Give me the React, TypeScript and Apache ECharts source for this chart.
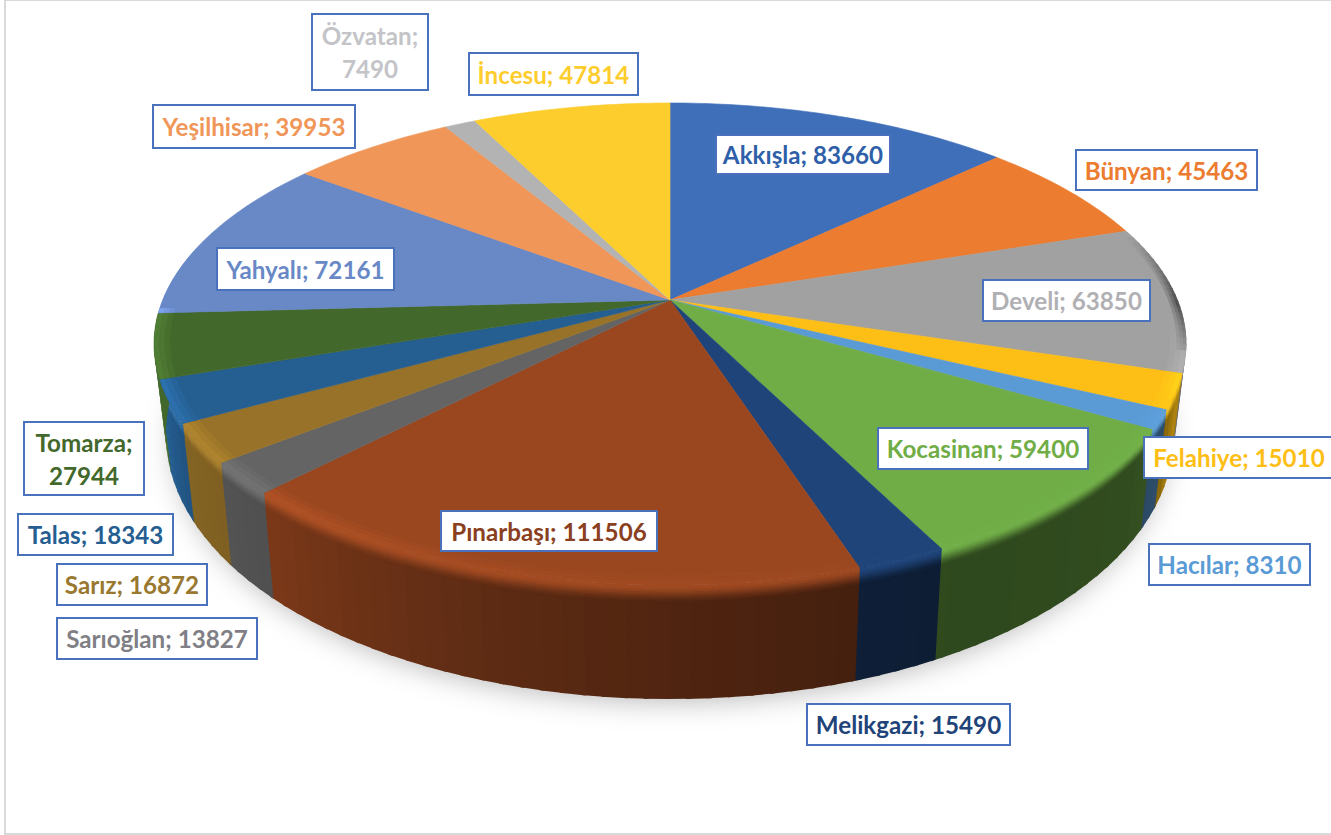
import React, { useEffect, useRef } from "react";
import * as echarts from "echarts";

const names = ["Akkışla","Bünyan","Develi","Felahiye","Hacılar","Kocasinan","Melikgazi","Pınarbaşı","Sarıoğlan","Sarız","Talas","Tomarza","Yahyalı","Yeşilhisar","Özvatan","İncesu"];
const values = [83660,45463,63850,15010,8310,59400,15490,111506,13827,16872,18343,27944,72161,39953,7490,47814];
const colors = ["#3f6fb8","#ec7c30","#a1a1a1","#fdbe16","#5b9bd5","#70ad47","#1f4479","#9a4720","#646464","#977228","#255e91","#43682b","#6888c6","#ef9658","#b3b3b3","#fdcd2e"];
const labelColors = ["#2f5fa8","#ec7c30","#b0b0b4","#fdbe16","#5b9bd5","#70ad47","#1f4479","#8a4020","#7f7f85","#997830","#255e91","#43682b","#6888c6","#ef9658","#c4c4c8","#fdcd2e"];
// label boxes: x0, y0, x1, y1
const labelBoxes = [[716,135,890,174],[1076,150,1257,190],[983,280,1150,321],[1144,437,1345,478],[1149,544,1310,585],[878,428,1088,469],[807,704,1010,745],[441,511,657,551],[57,618,257,659],[57,564,207,605],[18,514,173,555],[24,422,144,495],[217,248,394,290],[153,105,355,148],[312,14,428,90],[469,53,638,95]];
const twoLine = [false,false,false,false,false,false,false,false,false,false,false,true,false,false,true,false];
const labelFont = 'bold 24.2px Lato, "Noto Sans", sans-serif';

// perspective disc
const cx = 670, cy = 300, A = 507.3, B = 233, K = 0.1826, SHRINK = 0.023;
const total = values.reduce((s, v) => s + v, 0);
const rad = (d: number) => (d * Math.PI) / 180;
function P(deg: number, r: number, t: number): number[] {
  const X = r * Math.sin(rad(deg)), Y = -r * Math.cos(rad(deg));
  const w = 1 / (1 - K * Y);
  const s = 1 - SHRINK * t;
  const depth = 85 + 29 * Y; // the near rim looks deeper than the far one
  return [cx + A * X * w * s, cy + B * Y * w + depth * t];
}
function rgb(h: string) { return [1, 3, 5].map((i) => parseInt(h.slice(i, i + 2), 16)); }
function toHex(c: number[]) { return "#" + c.map((v) => Math.max(0, Math.min(255, Math.round(v))).toString(16).padStart(2, "0")).join(""); }
function mul(h: string, f: number) { return toHex(rgb(h).map((v) => v * f)); }
function mix(a: string, b: string, f: number) { const x = rgb(a), y = rgb(b); return toHex(x.map((v, i) => v + (y[i] - v) * f)); }
const shadeStops = [[70,0.4],[95,0.45],[104,0.65],[110,0.7],[116,0.5],[125,0.44],[150,0.42],[165,0.46],[180,0.52],[200,0.62],[224,0.8],[240,0.87],[250,1.0],[290,1.0]];
function shade(d: number) {
  for (let i = 1; i < shadeStops.length; i++) {
    const [a, va] = shadeStops[i - 1], [b, vb] = shadeStops[i];
    if (d <= b) return va + ((vb - va) * (d - a)) / (b - a);
  }
  return 1;
}
function range(i: number) {
  const before = values.slice(0, i).reduce((s, v) => s + v, 0);
  return [(before / total) * 360, ((before + values[i]) / total) * 360];
}
function steps(a: number, b: number, st: number) {
  const out = [a];
  let x = a + st;
  while (x < b - 0.01) { out.push(x); x += st; }
  out.push(b);
  return out;
}
const bandStops = [0.15, 0.13, 0.11, 0.09, 0.07, 0.05, 0.03, 0.015, 0];
const smooth = (u: number) => u * u * (3 - 2 * u);

function poly(points: number[][], color: string) {
  return { type: "polygon", shape: { points }, style: { fill: color } };
}

function renderShadow(params: any) {
  if (params.dataIndex !== 0) return { type: "group", children: [] };
  const pts = steps(0, 360, 3).map((d) => P(d, 0.985, 1));
  return { type: "polygon", shape: { points: pts }, style: { fill: "#ffffff", shadowBlur: 28, shadowOffsetX: 0, shadowOffsetY: 8, shadowColor: "rgba(0,0,0,0.28)" } };
}

function renderSide(params: any) {
  const i = params.dataIndex;
  const [a0, a1] = range(i);
  const lo = Math.max(a0, 75), hi = Math.min(a1, 285);
  const children: any[] = [];
  if (hi <= lo) return { type: "group", children };
  const ts = steps(lo, hi, 2);
  const over = 0.5;
  // bodies first, each reaching a little under its neighbour so no seam shows
  for (let s = 0; s < ts.length - 1; s++) {
    const d0 = ts[s], d1 = ts[s + 1] + over;
    const side = mul(colors[i], shade((ts[s] + ts[s + 1]) / 2));
    children.push(poly([P(d0, 1, 0.1), P(d1, 1, 0.1), P(d1, 1, 1), P(d0, 1, 1)], side));
  }
  for (let s = 0; s < ts.length - 1; s++) {
    const d0 = ts[s], d1 = ts[s + 1] + over;
    const f = shade((ts[s] + ts[s + 1]) / 2);
    const side = mul(colors[i], f);
    const hl = mul(colors[i], 1 + 0.2 * Math.max(0, f - 0.4) / 0.6);
    for (let b = 0; b < bandStops.length - 1; b++) {
      const t0 = bandStops[b + 1], t1 = bandStops[b] + 0.008;
      const c = mix(hl, side, smooth((bandStops[b + 1] + bandStops[b]) / 2 / 0.15));
      children.push(poly([P(d0, 1, t0), P(d1, 1, t0), P(d1, 1, t1), P(d0, 1, t1)], c));
    }
  }
  return { type: "group", children };
}

function renderTop(params: any) {
  const i = params.dataIndex;
  const [a0, a1] = range(i);
  const children: any[] = [];
  const arc = steps(a0, a1, 1).map((d) => P(d, 1, 0));
  children.push({ type: "polygon", shape: { points: [[cx, cy], ...arc] }, style: { fill: colors[i], stroke: colors[i], lineWidth: 0.6 } });
  const rimBands = [0.97, 0.98, 0.99, 1];
  const lo = Math.max(a0, 95), hi = Math.min(a1, 268);
  if (hi > lo) {
    const ts = steps(lo, hi, 2);
    for (let s = 0; s < ts.length - 1; s++) {
      const d0 = ts[s], d1 = Math.min(ts[s + 1] + 0.5, hi);
      const f = shade((ts[s] + ts[s + 1]) / 2);
      const hl = mul(colors[i], 1 + 0.2 * Math.max(0, f - 0.4) / 0.6);
      for (let r = 0; r < rimBands.length - 1; r++) {
        const c = mix(colors[i], hl, (r + 1) / 3);
        children.push(poly([P(d0, rimBands[r], 0), P(d1, rimBands[r], 0), P(d1, rimBands[r + 1], 0), P(d0, rimBands[r + 1], 0)], c));
      }
    }
  }
  // the back-right rim falls into shade, strongest near the widest point
  const bLo = Math.max(a0, 72), bHi = Math.min(a1, 102);
  if (bHi > bLo) {
    const ts = steps(bLo, bHi, 1.5);
    const rs = [0.982, 0.988, 0.994, 1.001];
    for (let s = 0; s < ts.length - 1; s++) {
      const d0 = ts[s], d1 = Math.min(ts[s + 1] + 0.4, bHi);
      const g = ts[s] < 90 ? (ts[s] - 72) / 18 : (102 - ts[s]) / 12;
      for (let r = 0; r < rs.length - 1; r++) {
        const c = mix(colors[i], mul(colors[i], 0.5), ((r + 1) / 3) * g);
        children.push(poly([P(d0, rs[r], 0), P(d1, rs[r], 0), P(d1, rs[r + 1], 0), P(d0, rs[r + 1], 0)], c));
      }
    }
  }
  return { type: "group", children };
}

function renderLabel(params: any, api: any) {
  const i = params.dataIndex;
  const [x0, y0, x1, y1] = labelBoxes[i];
  const v = api.value(0);
  const text = twoLine[i] ? `${names[i]};\n${v}` : `${names[i]}; ${v}`;
  return {
    type: "group",
    children: [
      { type: "rect", shape: { x: x0, y: y0, width: x1 - x0, height: y1 - y0 }, style: { fill: "#ffffff", stroke: "#4a72bc", lineWidth: 2 } },
      { type: "text", style: { text, x: Math.min((x0 + x1) / 2, i === 3 ? 1239 : 9999), y: (y0 + y1) / 2, align: "center", verticalAlign: "middle", font: labelFont, fill: labelColors[i], lineHeight: 33 } },
    ],
  };
}

export default function App() {
  const ref = useRef<HTMLDivElement>(null);
  useEffect(() => {
    const chart = echarts.init(ref.current!, null, { renderer: "svg" });
    const data = values.map((v) => [v]);
    const base = { type: "custom", coordinateSystem: "none", data, silent: true, animation: false };
    chart.setOption({
      animation: false,
      backgroundColor: "#ffffff",
      graphic: [{ type: "rect", z: 0, shape: { x: 5, y: 0, width: 1340, height: 834 }, style: { fill: "none", stroke: "#d9d9d9", lineWidth: 2 } }],
      series: [
        { ...base, z: 1, renderItem: renderShadow },
        { ...base, z: 2, renderItem: renderSide },
        { ...base, z: 3, renderItem: renderTop },
        { ...base, z: 4, renderItem: renderLabel },
      ],
    });
    return () => chart.dispose();
  }, []);
  return <div ref={ref} style={{ position: "absolute", left: 0, top: 0, width: 1331, height: 835 }} />;
}
